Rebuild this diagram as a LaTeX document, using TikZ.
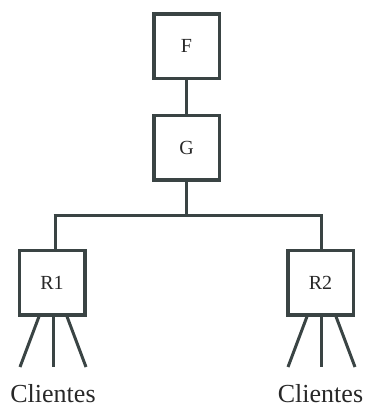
\documentclass[tikz,border=0pt]{standalone}
\usepackage{fontspec}
\setmainfont{Liberation Serif}
\usetikzlibrary{calc}
\definecolor{lineclr}{RGB}{58,68,68}
\definecolor{txtclr}{RGB}{40,40,40}
\tikzset{
  boxnode/.style={draw=lineclr, line width=3.5pt, fill=white, minimum width=65.5pt, minimum height=64.5pt, inner sep=0pt, text=txtclr, font=\fontsize{20}{24}\selectfont},
  conn/.style={draw=lineclr, line width=3pt},
  cltext/.style={text=txtclr, font=\fontsize{26}{30}\selectfont, anchor=base, inner sep=0pt}
}
\begin{document}
\begin{tikzpicture}[x=1pt,y=-1pt]
\useasboundingbox (0,0) rectangle (365,408);
\node[boxnode] (F) at (186.5,46) {F};
\node[boxnode] (G) at (186.5,147.5) {G};
\node[boxnode] (R1) at (52,282.5) {R1};
\node[boxnode] (R2) at (320.5,282.5) {R2};
\coordinate (hc) at (186.5,215.5);
\coordinate (hl) at (55,215.5);
\coordinate (hr) at (321,215.5);
\draw[conn] (F.south) -- (G.north);
\draw[conn] (G.south) -- (hc);
\draw[conn] ($(hl)+(-1.5,0)$) -- ($(hr)+(1.5,0)$);
\draw[conn] (hl) -- (hl |- R1.north);
\draw[conn] (hr) -- (hr |- R2.north);
% legs R1
\coordinate (a1) at (20,367);
\coordinate (a2) at (53,367);
\coordinate (a3) at (86,367);
\draw[conn] ($(R1.south)+(-13,0)$) -- (a1);
\draw[conn] ($(R1.south)+(1,0)$) -- (a2);
\draw[conn] ($(R1.south)+(15,0)$) -- (a3);
% legs R2
\coordinate (b1) at (288,367);
\coordinate (b2) at (321,367);
\coordinate (b3) at (355,367);
\draw[conn] ($(R2.south)+(-13.5,0)$) -- (b1);
\draw[conn] ($(R2.south)+(0.5,0)$) -- (b2);
\draw[conn] ($(R2.south)+(15.5,0)$) -- (b3);
\node[cltext] (c1) at (53,402) {Clientes};
\node[cltext] (c2) at (320.5,402) {Clientes};
\end{tikzpicture}
\end{document}
